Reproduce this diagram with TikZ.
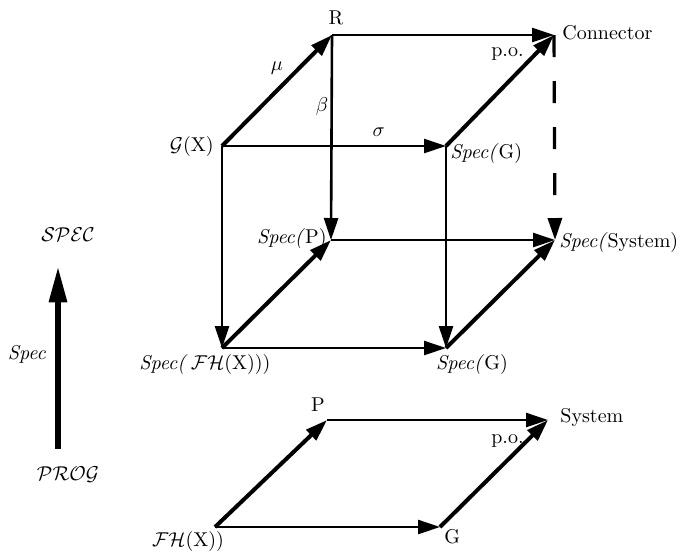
\documentclass[tikz,border=0pt]{standalone}
\usepackage{xcolor}
\usepackage{tikz}
\usetikzlibrary{positioning, arrows.meta}

\begin{document}
\begin{tikzpicture}[
			x=0.5pt, y=-0.5pt,
			node distance=2pt,
			lbl/.style={
				inner sep=1pt,
				font=\normalsize
			},
			edge/.style={
				-{Triangle[length=11pt, width=7pt]},
				line width=1.3pt
			},
			diag/.style={
				-{Triangle[length=11pt, width=7pt]},
				line width=2pt
			},
			dashln/.style={
				-{Triangle[length=11pt, width=7pt]},
				line width=1.6pt,
				dash pattern=on 11pt off 12pt
			},
			bigarrow/.style={
				-{Triangle[length=18pt, width=8.5pt]},
				line width=3pt
			}
			]
			
			\useasboundingbox (0,0) rectangle (683,554);
			
			\coordinate (r) at (332,35);
			\coordinate (conn) at (554,35);
			\coordinate (gx) at (222,146);
			\coordinate (sg1) at (446,146);
			\coordinate (sp) at (331,240);
			\coordinate (ss) at (555,240);
			\coordinate (sfh) at (222,348);
			\coordinate (sg2) at (446,348);
			
			\coordinate (p) at (327,420);
			\coordinate (sys) at (548,420);
			\coordinate (fh) at (215,527);
			\coordinate (g) at (440,527);
			
			\node[lbl, above=4pt of r, xshift=2pt] (rlbl) {R};
			\node[lbl, right=3pt of conn, yshift=1pt] (connlbl) {Connector};
			\node[lbl, below left=5pt and 14pt of conn] (po1) {p.o.};
			\node[lbl, left=3pt of gx] (gxlbl) {$\mathcal{G}$(X)};
			\node[lbl, right=1pt of sg1, yshift=-3.5pt] (sg1lbl) {\textit{Spec(}G)};
			\node[lbl, left=1pt of sp, yshift=1pt] (splbl) {\textit{Spec(}P)};
			\node[lbl, right=1pt of ss, yshift=-1pt] (sslbl) {\textit{Spec(}System)};
			\node[lbl, below=2pt of sfh, xshift=-8.5pt] (sfhlbl) {\textit{Spec(}\,$\mathcal{F}\mathcal{H}$(X)))};
			\node[lbl, below=2pt of sg2, xshift=13pt] (sg2lbl) {\textit{Spec(}G)};
			
			\node[lbl, above=3pt of p, xshift=-4.5pt] (plbl) {P};
			\node[lbl, right=5pt of sys, yshift=1.5pt] (syslbl) {System};
			\node[lbl, below left=6pt and 11pt of sys] (po2) {p.o.};
			\node[lbl, below=1pt of fh, xshift=-13.5pt] (fhlbl) {$\mathcal{F}\mathcal{H}$(X))};
			\node[lbl, below right=0pt and 1pt of g] (glbl) {G};
			
			\node[lbl] (spec) at (68,235) {$\mathcal{SPEC}$};
			\node[lbl] (prog) at (68,475) {$\mathcal{PROG}$};
			
			\draw[edge] (r) -- (conn);
			\draw[edge] (r) -- node[lbl, pos=0.35, left=0pt] (beta) {$\beta$} (sp);
			\draw[edge] (gx) -- node[lbl, pos=0.7, above=3pt] (sigma) {$\sigma$} (sg1);
			\draw[edge] (gx) -- (sfh);
			\draw[edge] (sp) -- (ss);
			\draw[edge] (sg1) -- (sg2);
			\draw[edge] (sfh) -- (sg2);
			\draw[dashln] (conn) -- (ss);
			
			\draw[diag] (gx) -- node[lbl, midway, above=6pt] (mu) {$\mu$} (r);
			\draw[diag] (sg1) -- (conn);
			\draw[diag] (sfh) -- (sp);
			\draw[diag] (sg2) -- (ss);
			
			\draw[edge] (p) -- (sys);
			\draw[edge] (fh) -- (g);
			\draw[diag] (fh) -- (p);
			\draw[diag] (g) -- (sys);
			
			\draw[bigarrow, shorten <=8pt, shorten >=11pt] 
			([xshift=-5pt]prog.north) -- node[lbl, midway, left=3.5pt] (speclbl) {\textit{Spec}} ([xshift=-5pt]spec.south);
			
		\end{tikzpicture}
\end{document}
